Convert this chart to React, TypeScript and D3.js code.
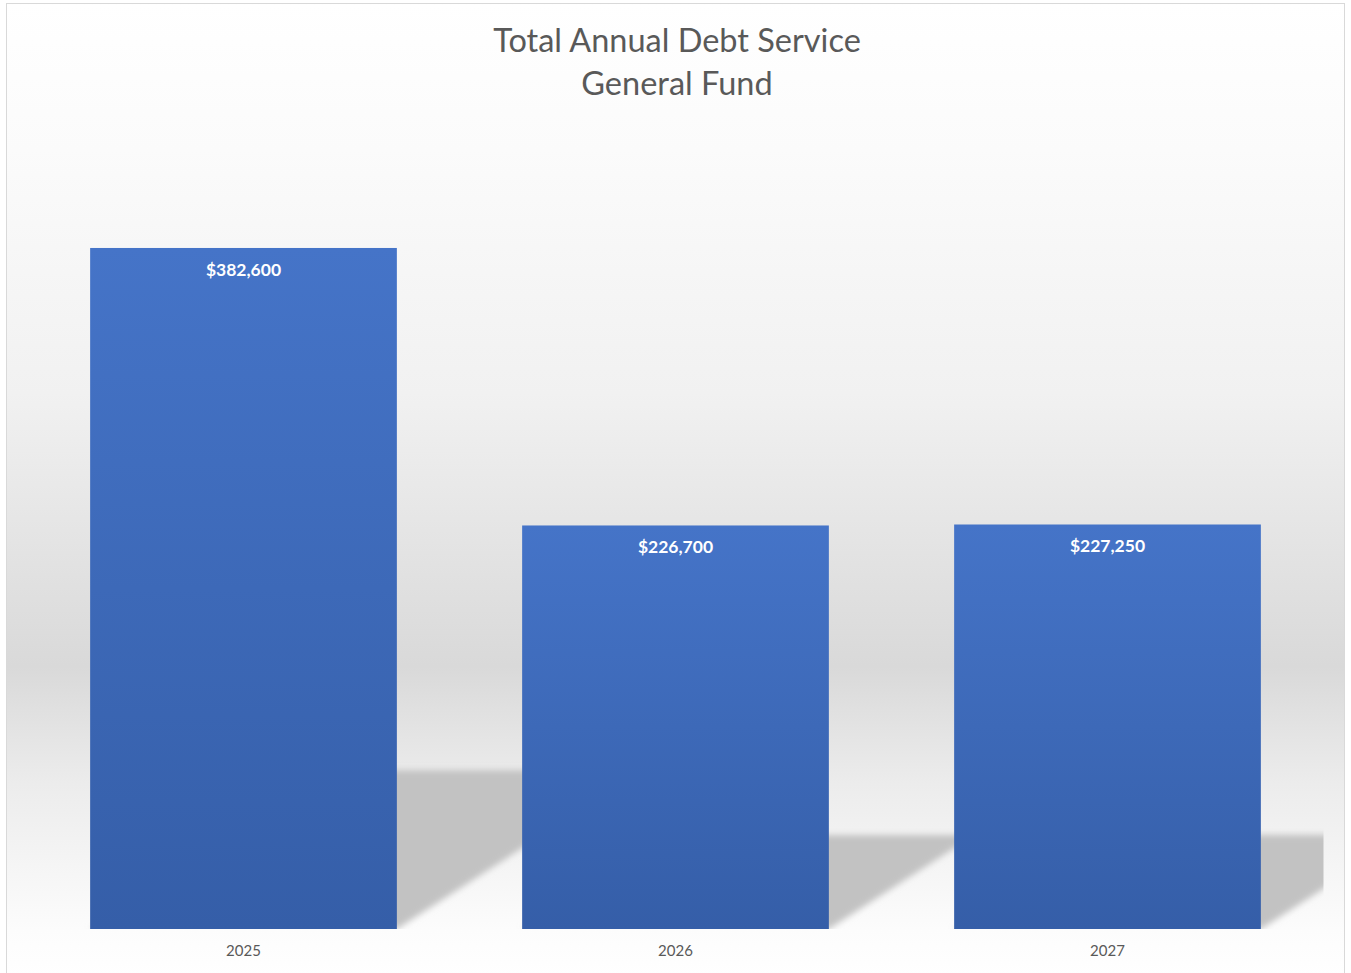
import React from "react";
import * as d3 from "d3";

const categories = ["2025", "2026", "2027"];
const values = [382600, 226700, 227250];
const titleLines = ["Total Annual Debt Service", "General Fund"];

const W = 1351;
const H = 973;
const plot = { left: 27.5, right: 1323.5, top: 128, bottom: 929 };

export default function App() {
  const x = d3
    .scaleBand<string>()
    .domain(categories)
    .range([plot.left, plot.right])
    .paddingInner(0.29)
    .paddingOuter(0.145);
  const y = d3.scaleLinear().domain([0, 450000]).range([plot.bottom, plot.top]);
  const fmt = (v: number) => "$" + d3.format(",")(v);
  const shadowRatio = 0.233;
  const shear = 1.55;

  return (
    <svg
      width={W}
      height={H}
      style={{ position: "absolute", left: 0, top: 0, display: "block" }}
      fontFamily="Lato, 'Open Sans', sans-serif"
    >
      <defs>
        <linearGradient id="bg" x1="0" y1="0" x2="0" y2="1">
          <stop offset="0" stopColor="#ffffff" />
          <stop offset="0.15" stopColor="#fbfbfb" />
          <stop offset="0.4" stopColor="#f1f1f1" />
          <stop offset="0.68" stopColor="#d9d9d9" />
          <stop offset="0.8" stopColor="#ececec" />
          <stop offset="0.95" stopColor="#fcfcfc" />
          <stop offset="1" stopColor="#ffffff" />
        </linearGradient>
        <linearGradient id="bar" x1="0" y1="0" x2="0" y2="1">
          <stop offset="0" stopColor="#4574c8" />
          <stop offset="1" stopColor="#355ea8" />
        </linearGradient>
        <filter id="blur" x="-20%" y="-20%" width="140%" height="140%">
          <feGaussianBlur stdDeviation="3" />
        </filter>
        <clipPath id="plotClip">
          <rect x={plot.left} y={plot.top - 50} width={plot.right - plot.left} height={plot.bottom - plot.top + 50} />
        </clipPath>
      </defs>
      <rect x={6.5} y={3.5} width={1338} height={975} fill="url(#bg)" stroke="#d9d9d9" strokeWidth={1} />
      {titleLines.map((t, i) => (
        <text
          key={t}
          x={677}
          y={52 + i * 43}
          textAnchor="middle"
          fontSize={32.5}
          fill="#595959"
        >
          {t}
        </text>
      ))}
      <g clipPath="url(#plotClip)">
        {values.map((v, i) => {
          const x0 = x(categories[i])!;
          const x1 = x0 + x.bandwidth();
          const base = y(0);
          const hs = (base - y(v)) * shadowRatio;
          const pts = [
            [x0, base],
            [x1, base],
            [x1 + shear * hs, base - hs],
            [x0 + shear * hs, base - hs],
          ];
          return (
            <polygon
              key={"s" + i}
              points={pts.map((p) => p.join(",")).join(" ")}
              fill="#c2c2c2"
              filter="url(#blur)"
            />
          );
        })}
      </g>
      {values.map((v, i) => (
        <rect
          key={"b" + i}
          x={x(categories[i])}
          y={y(v)}
          width={x.bandwidth()}
          height={y(0) - y(v)}
          fill="url(#bar)"
        />
      ))}
      {values.map((v, i) => (
        <text
          key={"l" + i}
          x={x(categories[i])! + x.bandwidth() / 2}
          y={y(v) + 28}
          textAnchor="middle"
          fontSize={17.5}
          fontWeight="bold"
          fill="#ffffff"
        >
          {fmt(v)}
        </text>
      ))}
      {categories.map((c) => (
        <text
          key={c}
          x={x(c)! + x.bandwidth() / 2}
          y={956}
          textAnchor="middle"
          fontSize={15}
          fill="#595959"
        >
          {c}
        </text>
      ))}
    </svg>
  );
}
